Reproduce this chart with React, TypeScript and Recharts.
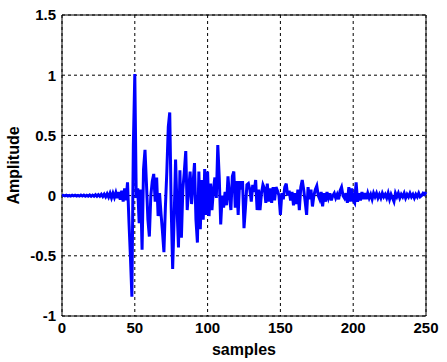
import { LineChart, Line, XAxis, YAxis, CartesianGrid, ReferenceArea } from 'recharts';

// amplitude per sample, index = sample number (0..250)
const amplitude = [
  0, 0.003, -0.002, 0.004, -0.003, 0.002, -0.004, 0.003, -0.002, 0.004,
  -0.003, 0.002, -0.004, 0.005, -0.003, 0.004, -0.005, 0.003, -0.004, 0.005,
  -0.006, 0.004, -0.005, 0.007, -0.006, 0.008, -0.005, 0.01, -0.008, 0.012,
  -0.01, 0.015, -0.012, 0.02, -0.018, 0.02, -0.015, 0.025, -0.02, 0.03,
  -0.035, 0.04, -0.05, 0.06, -0.04, 0.11, -0.22, -0.51, -0.84, 0.42,
  1.01, -0.02, 0.06, -0.23, 0.05, -0.45, 0.22, 0.38, 0.1, -0.2,
  -0.34, 0.0, 0.12, 0.18, -0.05, 0.15, -0.17, 0.02, -0.15, -0.3,
  -0.47, -0.1, 0.2, 0.57, 0.69, -0.1, -0.61, -0.2, 0.3, -0.1,
  -0.43, 0.21, -0.35, 0.05, 0.2, 0.37, -0.12, 0.05, 0.2, -0.07,
  0.1, 0.27, -0.2, -0.39, 0.2, -0.28, 0.13, -0.2, 0.22, -0.16,
  0.2, -0.17, 0.1, -0.12, 0.05, 0.15, -0.02, 0.42, 0.15, -0.24,
  0.0, -0.1, 0.03, -0.08, 0.16, 0.0, -0.12, 0.16, 0.2, -0.1,
  0.12, -0.16, 0.12, 0.05, 0.12, -0.27, -0.1, 0.09, 0.1, 0.05,
  -0.05, 0.09, 0.03, 0.13, -0.12, 0.05, -0.12, 0.02, 0.09, 0.06,
  -0.06, 0.1, -0.05, 0.06, -0.06, 0.07, -0.04, 0.07, 0.04, 0.0,
  -0.16, 0.02, -0.03, 0.07, 0.1, 0.0, 0.04, -0.04, 0.03, -0.08,
  0.02, -0.07, 0.05, -0.12, 0.07, 0.13, 0.05, -0.05, -0.16, 0.07,
  -0.03, 0.05, -0.09, 0.0, 0.05, 0.08, 0.0, -0.03, 0.03, -0.09,
  0.02, -0.05, 0.03, -0.02, 0.02, -0.04, 0.0, 0.02, -0.02, 0.01,
  -0.03, 0.04, 0.07, 0.0, -0.02, 0.02, -0.06, 0.07, -0.05, 0.06,
  -0.04, -0.06, 0.11, -0.05, 0.02, -0.04, 0.03, -0.03, 0.02, -0.03,
  0.02, -0.02, 0.01, -0.03, 0.02, -0.01, 0.02, -0.02, 0.01, -0.02,
  0.02, -0.01, 0.01, -0.02, 0.02, -0.03, 0.01, -0.02, -0.05, 0.02,
  -0.01, 0.02, -0.02, 0.01, -0.01, 0.02, -0.02, 0.01, -0.01, 0.02,
  -0.01, 0.01, -0.02, 0.01, -0.01, 0.02, -0.01, 0.0, 0.02, 0.01,
  0.03,
];

const xTicks = [0, 50, 100, 150, 200, 250];
const yTicks = [-1, -0.5, 0, 0.5, 1, 1.5];

const data = amplitude.map((v, i) => ({ sample: i, value: v }));

const font = '"Liberation Sans", Arial, sans-serif';
const tickStyle = { fill: '#000', fontSize: 15, fontWeight: 'bold', fontFamily: font };

const App = () => {
  return (
    <div style={{ position: 'absolute', left: 0, top: 0, background: '#fff' }}>
      <LineChart width={447} height={362} data={data} margin={{ top: 15, right: 21, left: 0, bottom: 0 }}>
        <CartesianGrid stroke="#000" strokeDasharray="3 3" strokeWidth={1} />
        <XAxis
          dataKey="sample"
          type="number"
          domain={[0, 250]}
          ticks={xTicks}
          height={46}
          tick={tickStyle}
          tickLine={false}
          tickSize={4}
          tickMargin={2}
          axisLine={false}
          label={{ value: 'samples', position: 'insideBottom', offset: 7, style: { ...tickStyle, fontSize: 16 } }}
        />
        <YAxis
          type="number"
          domain={[-1, 1.5]}
          ticks={yTicks}
          width={62}
          tick={tickStyle}
          tickLine={false}
          tickSize={4}
          tickMargin={2}
          axisLine={false}
          label={{ value: 'Amplitude', angle: -90, position: 'insideLeft', offset: 13, style: { ...tickStyle, fontSize: 16, textAnchor: 'middle' } }}
        />
        <ReferenceArea x1={0} x2={250} y1={-1} y2={1.5} fill="none" stroke="#000" strokeWidth={1} />
        <Line
          type="linear"
          dataKey="value"
          stroke="#0000ff"
          strokeWidth={3}
          dot={false}
          isAnimationActive={false}
        />
      </LineChart>
    </div>
  );
};

export default App;
